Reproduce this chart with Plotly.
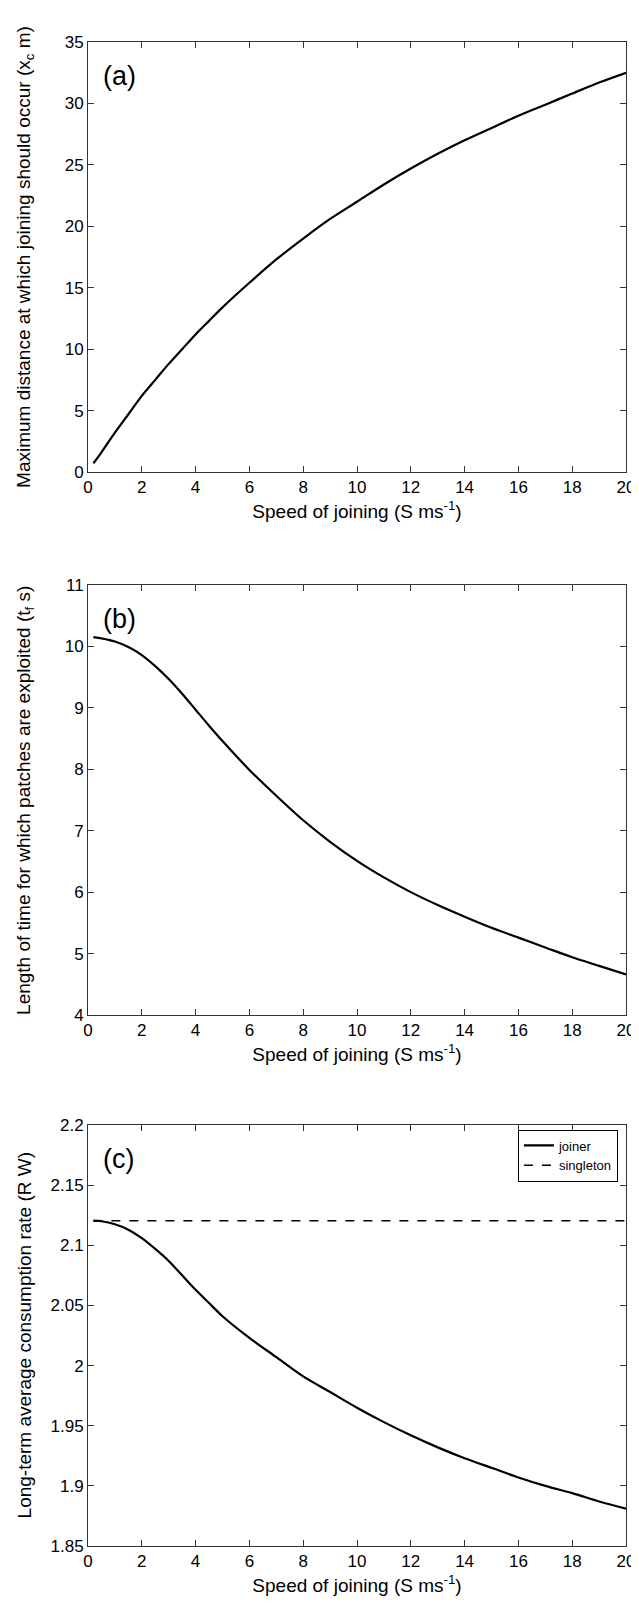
import plotly.graph_objects as go

speed = [0.2, 0.5, 1, 1.5, 2, 2.5, 3, 3.5, 4, 4.5, 5, 6, 7, 8, 9, 10, 11, 12, 13, 14, 15, 16, 17, 18, 19, 20]

dist_a = [0.7, 1.6, 3.2, 4.7, 6.2, 7.5, 8.8, 10.0, 11.2, 12.3, 13.4, 15.4, 17.3, 19.0, 20.6, 22.0, 23.4, 24.7, 25.9, 27.0, 28.0, 29.0, 29.9, 30.8, 31.7, 32.5]

time_b = [10.15, 10.13, 10.08, 9.99, 9.86, 9.68, 9.47, 9.23, 8.97, 8.71, 8.46, 7.99, 7.57, 7.17, 6.82, 6.51, 6.24, 6.0, 5.79, 5.6, 5.42, 5.26, 5.1, 4.94, 4.8, 4.66]

joiner_c = [2.1205, 2.1200, 2.1175, 2.113, 2.106, 2.097, 2.087, 2.075, 2.063, 2.052, 2.041, 2.023, 2.007, 1.991, 1.978, 1.965, 1.953, 1.942, 1.932, 1.923, 1.915, 1.907, 1.900, 1.894, 1.887, 1.881]
singleton_c = [2.1205] * len(speed)

x_ticks = [0, 2, 4, 6, 8, 10, 12, 14, 16, 18, 20]
ya_ticks = [0, 5, 10, 15, 20, 25, 30, 35]
yb_ticks = [4, 5, 6, 7, 8, 9, 10, 11]
yc_ticks = [1.85, 1.9, 1.95, 2.0, 2.05, 2.1, 2.15, 2.2]
yc_labels = ["1.85", "1.9", "1.95", "2", "2.05", "2.1", "2.15", "2.2"]

y_titles = ["Maximum distance at which joining should occur (x<sub>c</sub> m)",
            "Length of time for which patches are exploited (t<sub>f</sub> s)",
            "Long-term average consumption rate (R W)"]
x_title = "Speed of joining (S ms<sup>-1</sup>)"

FONT = "Liberation Sans, Arial, sans-serif"
AX = "#333333"

fig = go.Figure()
fig.add_trace(go.Scatter(x=speed, y=dist_a, mode="lines",
                         line=dict(color="black", width=2.2, shape="spline", smoothing=0.8),
                         showlegend=False, xaxis="x", yaxis="y"))
fig.add_trace(go.Scatter(x=speed, y=time_b, mode="lines",
                         line=dict(color="black", width=2.2, shape="spline", smoothing=0.8),
                         showlegend=False, xaxis="x2", yaxis="y2"))
fig.add_trace(go.Scatter(x=speed, y=joiner_c, mode="lines", name="joiner",
                         line=dict(color="black", width=2.2, shape="spline", smoothing=0.8), xaxis="x3", yaxis="y3"))
fig.add_trace(go.Scatter(x=speed, y=singleton_c, mode="lines", name="singleton",
                         line=dict(color="black", width=1.5, dash="dash"), xaxis="x3", yaxis="y3"))

T, B, L, R = 34, 65, 80, 13
H = 1603 - T - B
W = 639 - L - R


def dom(top_px, bot_px):
    return [(1538 - bot_px) / H, (1538 - top_px) / H]


common_x = dict(range=[0, 20], tickvals=x_ticks, showline=True, mirror="ticks", linecolor=AX, linewidth=1,
                ticks="inside", ticklen=6, tickcolor=AX, showgrid=False, zeroline=False,
                tickfont=dict(size=17, color="black", family=FONT),
                title=dict(text=x_title, font=dict(size=19, color="black", family=FONT), standoff=8))
common_y = dict(showline=True, mirror="ticks", linecolor=AX, linewidth=1, ticks="inside", ticklen=6, tickcolor=AX,
                showgrid=False, zeroline=False, tickfont=dict(size=17, color="black", family=FONT))

doms = [dom(34, 464), dom(577, 1007), dom(1117, 1538)]

fig.update_layout(
    width=639, height=1603,
    margin=dict(l=L, r=R, t=T, b=B),
    paper_bgcolor="white", plot_bgcolor="white",
    font=dict(family=FONT, color="black"),
    xaxis=dict(common_x, anchor="y"),
    xaxis2=dict(common_x, anchor="y2"),
    xaxis3=dict(common_x, anchor="y3"),
    yaxis=dict(common_y, domain=doms[0], range=[0, 35], tickvals=ya_ticks, anchor="x"),
    yaxis2=dict(common_y, domain=doms[1], range=[4, 11], tickvals=yb_ticks, anchor="x2"),
    yaxis3=dict(common_y, domain=doms[2], range=[1.85, 2.2], tickvals=yc_ticks, ticktext=yc_labels, anchor="x3"),
    legend=dict(x=0.985, y=doms[2][1] - 0.003, xanchor="right", yanchor="top", xref="paper", yref="paper",
                bgcolor="white", bordercolor="black", borderwidth=1,
                font=dict(size=13, color="black", family=FONT), tracegroupgap=0, itemwidth=30),
    showlegend=True,
)

for d, t in zip(doms, y_titles):
    fig.add_annotation(text=t, textangle=-90, x=(16 - L) / W, y=(d[0] + d[1]) / 2, xref="paper", yref="paper",
                       xanchor="center", yanchor="middle", showarrow=False,
                       font=dict(size=19, color="black", family=FONT))

for ax, lab in [("", "(a)"), ("2", "(b)"), ("3", "(c)")]:
    fig.add_annotation(text=lab, x=0.025, y=0.96, xref=f"x{ax} domain", yref=f"y{ax} domain",
                       xanchor="left", yanchor="top", showarrow=False,
                       font=dict(size=27, color="black", family=FONT))

fig.write_html("out.html")
